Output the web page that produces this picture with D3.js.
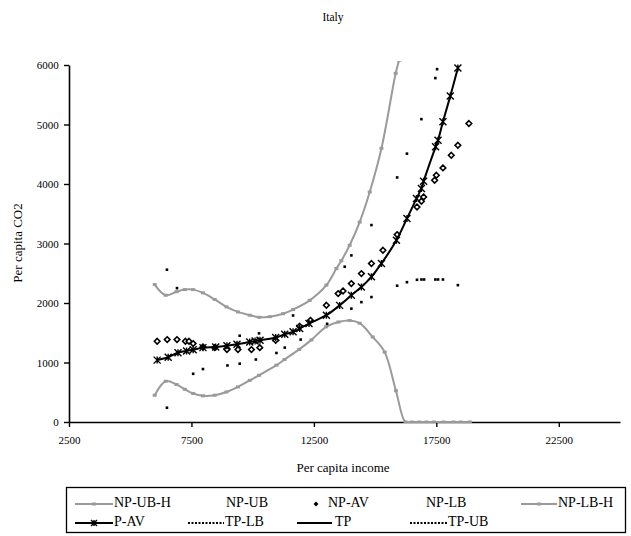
<!DOCTYPE html>
<html>
<head>
<meta charset="utf-8">
<script src="https://cdn.jsdelivr.net/npm/d3@7"></script>
<style>
  html, body { margin: 0; padding: 0; background: #fff; }
  svg { display: block; font-family: "Liberation Serif", "Times New Roman", serif; }
</style>
</head>
<body>
<svg id="chart" width="631" height="536"></svg>
<script>
// ---- data ----
const title = "Italy";
const xTicks = [2500, 7500, 12500, 17500, 22500];
const yTicks = [0, 1000, 2000, 3000, 4000, 5000, 6000];

const npUbH = [[6000,2310],[6450,2130],[6890,2190],[7230,2225],[7570,2225],[7970,2170],[8450,2060],[8930,1935],[9400,1850],[9880,1795],[10270,1760],[10700,1770],[11240,1820],[11650,1890],[12330,2045],[13010,2300],[13420,2580],[13620,2710],[13960,2970],[14370,3360],[14780,3865],[15260,4600],[15840,5860],[15980,6080]];

const npLbH = [[6000,450],[6450,685],[6890,630],[7230,550],[7570,480],[7970,440],[8450,450],[8930,505],[9400,590],[9880,700],[10260,785],[10970,955],[11300,1050],[11900,1220],[12400,1380],[13000,1600],[13500,1680],[13960,1705],[14370,1660],[14900,1430],[15390,1175],[15850,525],[16240,0],[16500,0],[16800,0],[17100,0],[17400,0],[17800,0],[18200,0],[18500,0],[18870,0]];

const pAv = [[6100,1040],[6550,1090],[6950,1165],[7300,1195],[7570,1215],[7970,1250],[8490,1260],[8950,1280],[9360,1305],[9880,1345],[10100,1360],[10300,1375],[10940,1420],[11310,1475],[11650,1515],[11920,1570],[12300,1655],[13010,1795],[13550,1960],[14030,2130],[14440,2270],[14850,2440],[15260,2665],[15870,3055],[16300,3420],[16690,3755],[16890,3925],[16980,4045],[17470,4625],[17570,4735],[17770,5045],[18070,5480],[18380,5950]];

const npAv = [[6100,1357],[6510,1385],[6910,1385],[7255,1357],[7400,1357],[7570,1318],[7970,1261],[8450,1250],[8950,1217],[9400,1217],[9950,1217],[10290,1250],[10940,1373],[11920,1609],[12360,1709],[13010,1962],[13490,2158],[13690,2202],[14030,2326],[14440,2494],[14850,2663],[15320,2886],[15900,3150],[16710,3614],[16890,3710],[16980,3782],[17430,4063],[17500,4147],[17770,4270],[18110,4483],[18380,4651],[18830,5016]];

const npUb = [[6500,2560],[6910,2250],[9470,1450],[10260,1490],[11650,1790],[13040,1650],[13760,2610],[14030,2800],[14850,3310],[15900,4110],[16300,4510],[16890,5090],[17460,5780],[17530,5930],[15900,2290],[16300,2350],[16710,2390],[16890,2395],[17000,2395],[17460,2395],[17570,2395],[17770,2395],[18380,2300]];

const npLb = [[6500,240],[7570,810],[7970,890],[8970,950],[9470,980],[10130,1050],[10970,1160],[11310,1250],[11960,1385],[14030,1905],[14440,2015],[14850,2100]];

const legendRow1 = ["NP-UB-H", "NP-UB", "NP-AV", "NP-LB", "NP-LB-H"];
const legendRow2 = ["P-AV", "TP-LB", "TP", "TP-UB"];

// ---- drawing ----
const svg = d3.select("#chart");
const GRAY = "#9a9a9a";
const x = d3.scaleLinear().domain([2500, 25000]).range([69, 620]);
const y = d3.scaleLinear().domain([0, 6000]).range([422, 65]);

svg.append("text").attr("x", 333).attr("y", 21).attr("text-anchor", "middle")
  .attr("font-size", 11.5).text(title);

svg.append("defs").append("clipPath").attr("id", "clip")
  .append("rect").attr("x", 69).attr("y", 61).attr("width", 560).attr("height", 362);

// axes
const xAxis = d3.axisBottom(x).tickValues(xTicks).tickSize(5).tickSizeOuter(0).tickFormat(d3.format("d"));
const yAxis = d3.axisLeft(y).tickValues(yTicks).tickSize(5).tickSizeOuter(0).tickFormat(d3.format("d"));
const gx = svg.append("g").attr("transform", "translate(0,422)").call(xAxis);
const gy = svg.append("g").attr("transform", "translate(69,0)").call(yAxis);
[gx, gy].forEach(g => {
  g.select(".domain").attr("stroke", "#000").attr("stroke-width", 1.6);
  g.selectAll(".tick line").attr("stroke", "#000").attr("stroke-width", 1.4);
  g.selectAll(".tick text").attr("font-family", "Liberation Serif, Times New Roman, serif")
    .attr("font-size", 11).attr("fill", "#000");
});
gx.selectAll(".tick text").attr("dy", "1.25em");
gy.selectAll(".tick text").attr("dx", "-0.2em");

svg.append("text").attr("x", 343).attr("y", 472).attr("text-anchor", "middle")
  .attr("font-size", 13).text("Per capita income");
svg.append("text").attr("transform", "translate(22,243) rotate(-90)").attr("text-anchor", "middle")
  .attr("font-size", 13).text("Per capita CO2");

const plot = svg.append("g").attr("clip-path", "url(#clip)");
const line = d3.line().x(d => x(d[0])).y(d => y(d[1])).curve(d3.curveCatmullRom.alpha(0.5));

function grayBand(data) {
  plot.append("path").datum(data).attr("d", line).attr("fill", "none")
    .attr("stroke", GRAY).attr("stroke-width", 2);
  plot.selectAll(null).data(data).enter().append("rect")
    .attr("x", d => x(d[0]) - 2).attr("y", d => y(d[1]) - 1.5)
    .attr("width", 4).attr("height", 3).attr("fill", GRAY);
}
grayBand(npUbH);
grayBand(npLbH);

// small dots
[npUb, npLb].forEach(data => {
  plot.selectAll(null).data(data).enter().append("rect")
    .attr("x", d => x(d[0]) - 1.3).attr("y", d => y(d[1]) - 1.3)
    .attr("width", 2.6).attr("height", 2.6).attr("fill", "#000");
});

// NP-AV diamonds
const dmd = (s) => `M0,${-s}L${s},0L0,${s}L${-s},0Z`;
plot.selectAll(null).data(npAv).enter().append("path")
  .attr("d", dmd(2.8)).attr("transform", d => `translate(${x(d[0])},${y(d[1])})`)
  .attr("fill", "#fff").attr("stroke", "#000").attr("stroke-width", 1.6);

// P-AV line + star markers
plot.append("path").datum(pAv).attr("d", line).attr("fill", "none")
  .attr("stroke", "#000").attr("stroke-width", 2);
function star(g, cx, cy, s) {
  g.append("path").attr("d", `M${cx-s},${cy-s}L${cx+s},${cy+s}M${cx-s},${cy+s}L${cx+s},${cy-s}M${cx},${cy-s}L${cx},${cy+s}`)
    .attr("stroke", "#000").attr("stroke-width", 1.4).attr("fill", "none");
}
pAv.forEach(d => star(plot, x(d[0]), y(d[1]), 3.5));

// legend
const lg = svg.append("g");
lg.append("rect").attr("x", 66.5).attr("y", 487.5).attr("width", 559).attr("height", 45)
  .attr("fill", "#fff").attr("stroke", "#000").attr("stroke-width", 1.3);
const r1 = 504, r2 = 523;
const tAttr = (t) => t.attr("font-size", 14).attr("dominant-baseline", "middle");
// row 1
lg.append("line").attr("x1", 75).attr("x2", 113).attr("y1", r1).attr("y2", r1).attr("stroke", GRAY).attr("stroke-width", 2);
lg.append("rect").attr("x", 92).attr("y", r1 - 1.5).attr("width", 4).attr("height", 3).attr("fill", GRAY);
tAttr(lg.append("text").attr("x", 114).attr("y", r1).text(legendRow1[0]));
tAttr(lg.append("text").attr("x", 226).attr("y", r1).text(legendRow1[1]));
lg.append("path").attr("d", dmd(2.5)).attr("transform", `translate(316,${r1})`).attr("fill", "#000");
tAttr(lg.append("text").attr("x", 328).attr("y", r1).text(legendRow1[2]));
tAttr(lg.append("text").attr("x", 426).attr("y", r1).text(legendRow1[3]));
lg.append("line").attr("x1", 521).attr("x2", 557).attr("y1", r1).attr("y2", r1).attr("stroke", GRAY).attr("stroke-width", 2);
lg.append("rect").attr("x", 537).attr("y", r1 - 1.5).attr("width", 4).attr("height", 3).attr("fill", GRAY);
tAttr(lg.append("text").attr("x", 558).attr("y", r1).text(legendRow1[4]));
// row 2
lg.append("line").attr("x1", 75).attr("x2", 113).attr("y1", r2).attr("y2", r2).attr("stroke", "#000").attr("stroke-width", 2);
star(lg, 94, r2, 3);
tAttr(lg.append("text").attr("x", 114).attr("y", r2).text(legendRow2[0]));
lg.append("line").attr("x1", 188).attr("x2", 224).attr("y1", r2).attr("y2", r2).attr("stroke", "#000").attr("stroke-width", 2).attr("stroke-dasharray", "2,1.5");
tAttr(lg.append("text").attr("x", 225).attr("y", r2).text(legendRow2[1]));
lg.append("line").attr("x1", 297).attr("x2", 332).attr("y1", r2).attr("y2", r2).attr("stroke", "#000").attr("stroke-width", 2);
tAttr(lg.append("text").attr("x", 335).attr("y", r2).text(legendRow2[2]));
lg.append("line").attr("x1", 410).attr("x2", 447).attr("y1", r2).attr("y2", r2).attr("stroke", "#000").attr("stroke-width", 2).attr("stroke-dasharray", "2,1.5");
tAttr(lg.append("text").attr("x", 448).attr("y", r2).text(legendRow2[3]));
</script>
</body>
</html>
